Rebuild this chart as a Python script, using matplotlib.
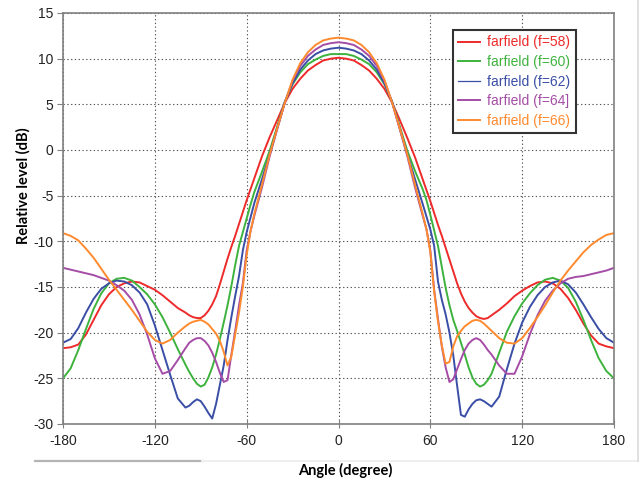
import numpy as np
import matplotlib
matplotlib.use('Agg')
import matplotlib.pyplot as plt
from matplotlib.lines import Line2D

plt.rcParams['axes.unicode_minus'] = False

# ------------------------------------------------------------
# data (angle in degree, level in dB)
# ------------------------------------------------------------
angle = [-180, -175, -170, -165, -160, -155, -150, -145, -140, -135, -130, -125,
         -120, -115, -110, -105, -100, -97.5, -95, -92.5, -90, -87.5, -85, -82.5,
         -80, -77.5, -75, -72.5, -70, -67.5, -65, -62.5, -60, -57.5, -55, -50,
         -45, -40, -35, -30, -25, -20, -15, -10, -5, 0,
         5, 10, 15, 20, 25, 30, 35, 40, 45, 50, 55, 57.5, 60, 62.5, 65, 67.5,
         70, 72.5, 75, 77.5, 80, 82.5, 85, 87.5, 90, 92.5, 95, 97.5, 100, 105,
         110, 115, 120, 125, 130, 135, 140, 145, 150, 155, 160, 165, 170, 175, 180]

f58 = [-21.7, -21.6, -21.3, -20.2, -18.6, -17.0, -15.8, -15.0, -14.6, -14.4, -14.5, -14.9,
       -15.3, -15.9, -16.6, -17.3, -17.8, -18.1, -18.3, -18.4, -18.4, -18.1, -17.6, -16.9,
       -16.0, -14.7, -13.3, -11.9, -10.6, -9.4, -8.1, -6.8, -5.5, -4.3, -3.1, -0.7,
       1.4, 3.3, 5.2, 6.7, 7.8, 8.7, 9.3, 9.8, 10.0, 10.1,
       10.0, 9.8, 9.3, 8.7, 7.8, 6.7, 5.2, 3.3, 1.3, -0.8, -3.2, -4.4, -5.6, -6.9, -8.2, -9.4,
       -10.7, -12.0, -13.3, -14.6, -15.7, -16.6, -17.3, -17.8, -18.2, -18.4, -18.5, -18.4, -18.1, -17.5,
       -16.8, -16.0, -15.4, -14.9, -14.5, -14.4, -14.6, -15.2, -16.2, -17.5, -19.0, -20.3, -21.2, -21.5, -21.7]

f60 = [-25.0, -23.9, -21.9, -19.6, -17.4, -15.7, -14.6, -14.1, -14.0, -14.3, -15.0, -15.8,
       -16.9, -18.3, -20.0, -21.8, -23.5, -24.3, -25.0, -25.6, -25.9, -25.7, -24.9, -23.8,
       -22.4, -20.7, -18.9, -17.0, -14.9, -12.6, -10.5, -9.0, -7.5, -6.0, -4.6, -2.4,
       -0.1, 2.6, 5.3, 7.2, 8.5, 9.4, 9.9, 10.3, 10.5, 10.5,
       10.5, 10.3, 9.9, 9.4, 8.5, 7.2, 5.3, 2.6, -0.1, -2.3, -4.3, -5.5, -7.1, -8.8, -10.5, -12.8,
       -15.1, -17.0, -18.6, -19.8, -21.1, -22.4, -23.8, -24.9, -25.6, -25.9, -25.7, -25.2, -24.5, -22.2,
       -19.9, -18.2, -16.8, -15.7, -14.8, -14.2, -14.0, -14.3, -15.1, -16.6, -18.6, -20.8, -22.8, -24.2, -25.0]

f62 = [-21.1, -20.7, -19.5, -17.8, -16.3, -15.2, -14.6, -14.3, -14.4, -14.8, -15.6, -16.9,
       -19.2, -21.9, -24.6, -27.2, -28.2, -28.0, -27.6, -27.3, -27.5, -28.1, -28.8, -29.4,
       -27.8, -25.7, -23.6, -20.8, -18.3, -16.0, -13.8, -11.0, -9.0, -7.4, -5.8, -3.2,
       -0.5, 2.4, 5.3, 7.3, 8.8, 9.8, 10.5, 10.9, 11.1, 11.2,
       11.1, 10.9, 10.5, 9.8, 8.8, 7.3, 5.3, 2.4, -0.5, -3.2, -5.9, -7.3, -8.7, -10.5, -14.4, -16.4,
       -18.0, -20.0, -22.5, -25.8, -29.0, -29.2, -28.4, -27.8, -27.4, -27.3, -27.5, -27.8, -28.1, -27.0,
       -24.0, -21.2, -18.9, -17.2, -15.9, -15.0, -14.5, -14.3, -14.7, -15.6, -16.9, -18.3, -19.6, -20.6, -21.1]

f64 = [-12.9, -13.1, -13.3, -13.5, -13.7, -14.0, -14.3, -14.8, -15.4, -16.4, -18.0, -20.2,
       -22.8, -24.5, -24.2, -23.0, -21.7, -21.1, -20.8, -20.6, -20.6, -20.9, -21.4, -22.2,
       -23.2, -24.4, -25.4, -25.2, -22.4, -19.8, -17.0, -14.6, -11.0, -8.9, -7.2, -4.1,
       -0.7, 2.3, 5.2, 7.6, 9.2, 10.3, 11.0, 11.5, 11.7, 11.8,
       11.7, 11.5, 11.0, 10.3, 9.2, 7.6, 5.2, 2.3, -0.7, -4.1, -7.2, -8.7, -11.0, -15.3, -18.5, -21.5,
       -23.8, -25.4, -25.1, -24.0, -22.9, -21.9, -21.2, -20.8, -20.6, -20.8, -21.3, -21.9, -22.4, -23.6,
       -24.5, -24.5, -22.6, -20.2, -18.1, -16.5, -15.4, -14.6, -14.1, -13.9, -13.8, -13.6, -13.4, -13.2, -12.9]

f66 = [-9.1, -9.4, -9.9, -10.8, -11.8, -13.0, -14.2, -15.3, -16.4, -17.5, -18.7, -19.9,
       -20.8, -21.2, -20.8, -20.0, -19.3, -19.0, -18.8, -18.7, -18.6, -18.8, -19.1, -19.6,
       -20.1, -20.9, -22.1, -23.6, -22.6, -20.2, -17.8, -15.0, -11.5, -8.9, -7.0, -3.8,
       -0.5, 2.4, 5.2, 7.7, 9.5, 10.7, 11.5, 12.0, 12.2, 12.3,
       12.2, 12.0, 11.5, 10.7, 9.5, 7.7, 5.2, 2.4, -0.5, -3.8, -7.0, -8.7, -11.2, -15.5, -18.8, -21.4,
       -23.4, -23.2, -21.5, -20.4, -19.8, -19.3, -19.0, -18.7, -18.6, -18.7, -19.0, -19.4, -19.8, -20.6,
       -21.1, -21.2, -20.6, -19.5, -18.3, -17.0, -15.6, -14.3, -13.2, -12.2, -11.2, -10.4, -9.8, -9.3, -9.1]

labels = ['farfield (f=58)', 'farfield (f=60)', 'farfield (f=62)',
          'farfield (f=64]', 'farfield (f=66)']
colors = ['#ee2a2a', '#3db33d', '#3a4ea6', '#a54ca6', '#ff8a2e']

# ------------------------------------------------------------
# plot
# ------------------------------------------------------------
fig = plt.figure(figsize=(6.39, 4.8), dpi=100)

# faint outer border of the original screenshot (drawn first, behind text)
fig.add_artist(Line2D([35 / 639, 202 / 639], [1 - 461 / 480] * 2, color='#b4b4b4', lw=1.6, zorder=0))
fig.add_artist(Line2D([202 / 639, 638 / 639], [1 - 461 / 480] * 2, color='#efefef', lw=1.4, zorder=0))
fig.add_artist(Line2D([638 / 639] * 2, [1 - 461 / 480, 1], color='#dcdcdc', lw=1.2, zorder=0))

ax = fig.add_axes([63 / 639, 1 - 424 / 480, 551 / 639, 411 / 480])
ax.patch.set_alpha(0)

series = [f58, f60, f62, f64, f66]
for vals, c, lab in zip(series, colors, labels):
    ax.plot(angle, vals, color=c, lw=1.4, label=lab)

ax.set_xlim(-180, 180)
ax.set_ylim(-30, 15)
ax.set_xticks(np.arange(-180, 181, 60))
ax.set_yticks(np.arange(-30, 16, 5))
ax.grid(True, color='#555555', linestyle=(0, (1.2, 2.2)), lw=0.8)
for s in ax.spines.values():
    s.set_color('#808080')
    s.set_linewidth(1.2)
ax.tick_params(axis='x', direction='inout', length=6, color='#808080',
               labelsize=10, pad=4)
ax.tick_params(axis='y', direction='out', length=4, color='#808080',
               labelsize=10, pad=3)
for t in ax.get_xticklabels() + ax.get_yticklabels():
    t.set_fontfamily('Liberation Sans')
    t.set_color('#222222')

ax.set_xlabel('Angle (degree)', fontfamily='Lato', fontweight='bold', fontsize=10.5)
ax.set_ylabel('Relative level (dB)', fontfamily='Lato', fontweight='bold', fontsize=10.5)
ax.xaxis.set_label_coords(0.512, -0.094)
ax.yaxis.set_label_coords(-0.058, 0.58)

handles = [Line2D([], [], color=c, lw=(0.9 if i == 2 else 1.4))
           for i, c in enumerate(colors)]
leg = ax.legend(handles, labels, loc='upper left', bbox_to_anchor=(0.707, 0.959),
                borderaxespad=0, fancybox=False, framealpha=1, edgecolor='#333333',
                prop={'family': 'Liberation Sans', 'size': 10}, labelspacing=0.4,
                handlelength=1.6, handletextpad=0.5, borderpad=0.4)
leg.get_frame().set_linewidth(1.5)
for txt, c in zip(leg.get_texts(), colors):
    txt.set_color(c)

fig.savefig('out.png', dpi=100)
